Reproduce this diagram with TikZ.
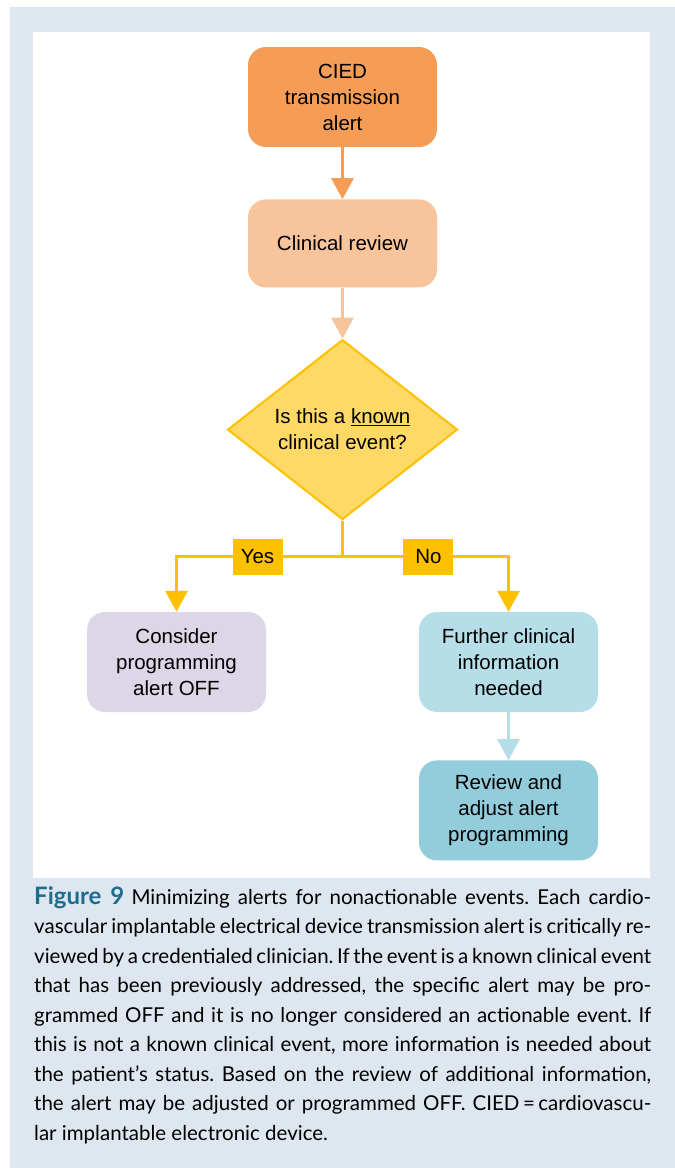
\documentclass[tikz,border=0pt]{standalone}
\usepackage{fontspec}
\setmainfont{Liberation Sans}
\newfontfamily\capfont{Lato}
\usetikzlibrary{arrows.meta,positioning,shapes.geometric}

\definecolor{panelblue}{HTML}{DEE7F0}
\definecolor{alertorange}{HTML}{F59D56}
\definecolor{reviewpeach}{HTML}{F8C49C}
\definecolor{askfill}{HTML}{FFD966}
\definecolor{gold}{HTML}{FFC000}
\definecolor{offlilac}{HTML}{DCD6E6}
\definecolor{infoblue}{HTML}{B5DEE8}
\definecolor{adjustblue}{HTML}{93CDDC}
\definecolor{figteal}{HTML}{1C6E8C}

\begin{document}
\begin{tikzpicture}[x=1pt,y=-1pt,node distance=52pt,
    flow/.style={-{Triangle[width=22pt,length=21pt]},line width=3pt},
    box/.style={rounded corners=18pt,minimum width=189pt,minimum height=100pt,align=center,
        font=\fontsize{20.5}{26}\selectfont},
    smallbox/.style={box,minimum width=179pt},
    answer/.style={fill=gold,text=black,minimum width=50pt,minimum height=36pt,inner sep=0pt,
        font=\fontsize{20.5}{26}\selectfont}]

    % frame and panel
    \useasboundingbox (0,0) rectangle (675,1168);
    \fill[panelblue] (10,7) rectangle (675,1168);
    \fill[white] (33,32) rectangle (650,878);

    % flow
    \node[box,fill=alertorange] (alert) at (342.5,97) {CIED\\transmission\\alert};
    \node[box,fill=reviewpeach,minimum height=88pt,below=of alert] (review) {Clinical review};
    \node[diamond,fill=askfill,draw=gold,line width=2pt,minimum width=230pt,minimum height=180pt,
        inner sep=0pt,align=center,font=\fontsize{20.5}{26}\selectfont,below=51pt of review] (known)
        {Is this a \underline{known}\\clinical event?};
    \coordinate[below=36pt of known.south] (split);

    \node[smallbox,fill=offlilac] (off) at (176.5,662) {Consider\\programming\\alert OFF};
    \node[smallbox,fill=infoblue] (info) at (508.5,662) {Further clinical\\information\\needed};
    \node[smallbox,fill=adjustblue,below=48pt of info] (adjust) {Review and\\adjust alert\\programming};

    \draw[flow,alertorange] (alert) -- (review);
    \draw[flow,reviewpeach] (review) -- (known);
    \draw[line width=3pt,gold] (known.south) -- (split);
    \draw[flow,gold] (split) -| node[answer,pos=0.256] (yes) {Yes} (off.north);
    \draw[flow,gold] (split) -| node[answer,pos=0.259] (no) {No} (info.north);
    \draw[flow,infoblue] (info) -- (adjust);

    % caption
    \node[anchor=north west,inner sep=0pt,text width=617pt,align=justify,
        font=\capfont\fontsize{20.5}{29.5}\selectfont\frenchspacing] (caption) at (34,886)
        {{\bfseries\fontsize{24}{29.5}\selectfont\color{figteal}Figure 9}\hspace{0.35em}Minimizing alerts for nonactionable events. Each cardio-\linebreak
        vascular implantable electrical device transmission alert is critically re-\linebreak
        viewed by a credentialed clinician. If the event is a known clinical event\linebreak
        that has been previously addressed, the specific alert may be pro-\linebreak
        grammed OFF and it is no longer considered an actionable event. If\linebreak
        this is not a known clinical event, more information is needed about\linebreak
        the patient’s status. Based on the review of additional information,\linebreak
        the alert may be adjusted or programmed OFF. CIED\,=\,cardiovascu-\linebreak
        lar implantable electronic device.};
\end{tikzpicture}
\end{document}
